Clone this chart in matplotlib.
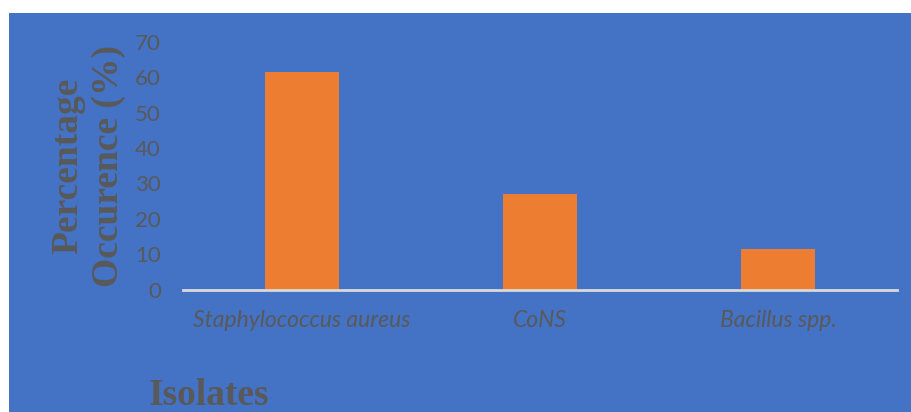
"""Percentage occurrence of bacterial isolates, bar chart on a blue panel."""

import matplotlib.pyplot as plt
from matplotlib.patches import Rectangle

isolates = ["Staphylococcus aureus", "CoNS", "Bacillus spp."]
percent = [61.5, 26.9, 11.5]
yticks = [0, 10, 20, 30, 40, 50, 60, 70]

BLUE = "#4472C4"
ORANGE = "#ED7D31"
GREY = "#595959"

W, H = 912, 412
fig = plt.figure(figsize=(W / 100, H / 100), dpi=100)
fig.patch.set_facecolor("white")
fig.patches.append(Rectangle((9 / W, 0), 1 - 9 / W, (H - 13) / H,
                             transform=fig.transFigure, facecolor=BLUE,
                             edgecolor="none", zorder=-5))

ax = fig.add_axes([183 / W, (H - 289.5) / H, (897 - 183) / W, (289.5 - 42) / H])
ax.set_facecolor("none")
ax.set_zorder(2)
ax.bar(range(len(isolates)), percent, width=0.31, color=ORANGE, zorder=2)

ax.set_xlim(-0.5, len(isolates) - 0.5)
ax.set_ylim(0, 70)
ax.set_yticks(yticks)
ax.set_xticks(range(len(isolates)))
ax.set_xticklabels(isolates, fontstyle="italic", family="Lato", fontsize=16.5, color=GREY)
ax.set_yticklabels(yticks, family="Lato", fontsize=16, color=GREY)
ax.tick_params(axis="y", length=0, pad=16)
ax.tick_params(axis="x", length=0, pad=15)

for side in ("top", "right", "left"):
    ax.spines[side].set_visible(False)
ax.spines["bottom"].set_color("#D9D9D9")
ax.spines["bottom"].set_linewidth(2)
ax.spines["bottom"].set_zorder(3)

fig.text(88 / W, (H - 166) / H, "Percentage\nOccurence (%)", rotation=90,
         ha="center", va="center", multialignment="center", linespacing=1.22,
         family="Liberation Serif", fontweight="bold", fontsize=27, color=GREY)
fig.text(209 / W, (H - 405) / H, "Isolates", ha="center", va="baseline",
         family="Liberation Serif", fontweight="bold", fontsize=27, color=GREY)

fig.savefig("out.png", dpi=100)
